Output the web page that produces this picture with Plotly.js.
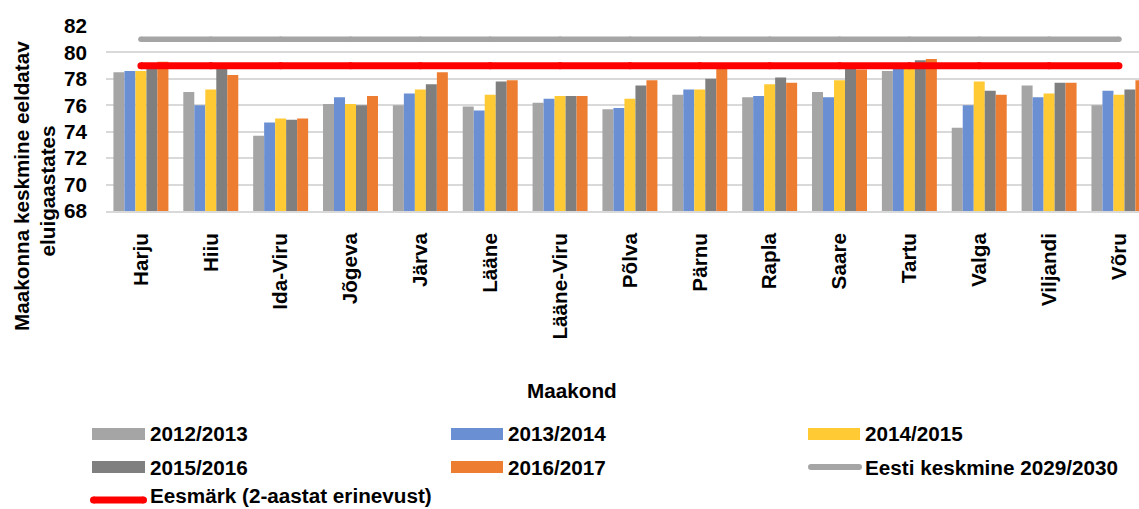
<!DOCTYPE html>
<html>
<head>
<meta charset="utf-8">
<script src="https://cdn.plot.ly/plotly-3.0.1.min.js"></script>
<style>
  html, body { margin: 0; padding: 0; background: #fff; }
  #chart { width: 1139px; height: 509px; }
</style>
</head>
<body>
<div id="chart"></div>
<script>
// Maakonnad (counties)
const categories = ['Harju', 'Hiiu', 'Ida-Viru', 'Jõgeva', 'Järva', 'Lääne', 'Lääne-Viru',
  'Põlva', 'Pärnu', 'Rapla', 'Saare', 'Tartu', 'Valga', 'Viljandi', 'Võru'];

// Keskmine eeldatav eluiga (aastates) perioodide kaupa
const v2012_2013 = [78.5, 77.0, 73.7, 76.1, 76.0, 75.9, 76.2, 75.7, 76.8, 76.6, 77.0, 78.6, 74.3, 77.5, 76.0];
const v2013_2014 = [78.6, 76.0, 74.7, 76.6, 76.9, 75.6, 76.5, 75.8, 77.2, 76.7, 76.6, 78.9, 76.0, 76.6, 77.1];
const v2014_2015 = [78.6, 77.2, 75.0, 76.1, 77.2, 76.8, 76.7, 76.5, 77.2, 77.6, 77.9, 78.9, 77.8, 76.9, 76.8];
const v2015_2016 = [79.0, 78.9, 74.9, 76.0, 77.6, 77.8, 76.7, 77.5, 78.0, 78.1, 78.9, 79.4, 77.1, 77.7, 77.2];
const v2016_2017 = [79.3, 78.3, 75.0, 76.7, 78.5, 77.9, 76.7, 77.9, 78.8, 77.7, 78.7, 79.5, 76.8, 77.7, 77.9];

// Võrdlusjooned
const eestiKeskmine = [81, 81, 81, 81, 81, 81, 81, 81, 81, 81, 81, 81, 81, 81, 81];
const eesmark = [79, 79, 79, 79, 79, 79, 79, 79, 79, 79, 79, 79, 79, 79, 79];

const seriesNames = ['2012/2013', '2013/2014', '2014/2015', '2015/2016', '2016/2017'];
const seriesValues = [v2012_2013, v2013_2014, v2014_2015, v2015_2016, v2016_2017];
const seriesColors = ['#A5A5A5', '#6A8FD2', '#FFCA33', '#7F7F7F', '#ED7D31'];
const lineNames = ['Eesti keskmine 2029/2030', 'Eesmärk (2-aastat erinevust)'];
const yTitleLines = ['Maakonna keskmine eeldatav', 'eluigaastates'];
const xTitle = 'Maakond';

const FONT = 'Liberation Sans, Arial, sans-serif';
const FS = 20.7;

// layout geometry (pixels)
const W = 1139, H = 509;
const M = { l: 106, r: 0, t: 26, b: 298 };
const PW = W - M.l - M.r, PH = H - M.t - M.b;
const px = x => (x - M.l) / PW;
const py = y => (H - M.b - y) / PH;

const traces = seriesValues.map((vals, i) => ({
  type: 'bar',
  name: seriesNames[i],
  x: categories,
  y: vals,
  marker: { color: seriesColors[i] },
  showlegend: false,
  hoverinfo: 'x+y+name'
}));

// reference lines; markers round off the line ends
traces.push({
  type: 'scatter', mode: 'lines+markers', name: lineNames[0],
  x: categories, y: eestiKeskmine,
  line: { color: '#A5A5A5', width: 5.5 },
  marker: { color: '#A5A5A5', size: 5.5 },
  showlegend: false
});
traces.push({
  type: 'scatter', mode: 'lines+markers', name: lineNames[1],
  x: categories, y: eesmark,
  line: { color: '#FF0000', width: 7 },
  marker: { color: '#FF0000', size: 7 },
  showlegend: false
});

// legend drawn as shapes + text
const shapes = [];
const annotations = [];
const boldFont = { family: FONT, size: FS, color: '#000', weight: 'bold' };

function rectSwatch(x0, x1, yc, color) {
  shapes.push({
    type: 'rect', xref: 'paper', yref: 'paper',
    x0: px(x0), x1: px(x1), y0: py(yc + 6), y1: py(yc - 6),
    fillcolor: color, line: { width: 0 }
  });
}
function lineSwatch(x0, x1, yc, color, w) {
  const r = w / 2;
  shapes.push({
    type: 'line', xref: 'paper', yref: 'paper',
    x0: px(x0 + r), x1: px(x1 - r), y0: py(yc), y1: py(yc),
    line: { color: color, width: w }
  });
  [x0 + r, x1 - r].forEach(cx => shapes.push({
    type: 'circle', xref: 'paper', yref: 'paper',
    x0: px(cx - r), x1: px(cx + r), y0: py(yc + r), y1: py(yc - r),
    fillcolor: color, line: { width: 0 }
  }));
}
function legendText(x, yc, text) {
  annotations.push({
    xref: 'paper', yref: 'paper', x: px(x), y: py(yc),
    xanchor: 'left', yanchor: 'middle', showarrow: false,
    text: text, font: boldFont
  });
}

const rows = [434, 467, 500];
rectSwatch(92, 145, rows[0], seriesColors[0]);  legendText(148, rows[0], seriesNames[0]);
rectSwatch(451, 503, rows[0], seriesColors[1]); legendText(506, rows[0], seriesNames[1]);
rectSwatch(808, 860, rows[0], seriesColors[2]); legendText(863, rows[0], seriesNames[2]);
rectSwatch(92, 145, rows[1], seriesColors[3]);  legendText(148, rows[1], seriesNames[3]);
rectSwatch(451, 503, rows[1], seriesColors[4]); legendText(506, rows[1], seriesNames[4]);
lineSwatch(808, 862, rows[1], '#A5A5A5', 6);    legendText(863, rows[1], lineNames[0]);
lineSwatch(90, 147, rows[2], '#FF0000', 7);
annotations.push({
  xref: 'paper', yref: 'paper', x: px(148), y: py(H),
  xanchor: 'left', yanchor: 'bottom', showarrow: false,
  text: lineNames[1], font: boldFont
});

// y-axis title, two rotated lines, each anchored at its starting (lower) end
[[21, 333, yTitleLines[0]], [47, 259, yTitleLines[1]]].forEach(([xc, yStart, t]) => annotations.push({
  xref: 'paper', yref: 'paper', x: px(xc), y: py(yStart),
  xanchor: 'center', yanchor: 'bottom', showarrow: false, textangle: -90,
  text: t, font: boldFont
}));
annotations.push({
  xref: 'paper', yref: 'paper', x: px(572), y: py(390),
  xanchor: 'center', yanchor: 'middle', showarrow: false,
  text: xTitle, font: boldFont
});

const layout = {
  width: W, height: H,
  margin: M,
  paper_bgcolor: '#fff', plot_bgcolor: '#fff',
  barmode: 'group', bargap: 0.213, bargroupgap: 0,
  showlegend: false,
  font: { family: FONT, size: FS, color: '#000' },
  xaxis: {
    type: 'category',
    range: [-0.5, 14.287],
    tickangle: -90,
    tickfont: boldFont,
    ticks: '',
    ticklabelstandoff: 12,
    showline: true, linecolor: '#D9D9D9', linewidth: 1.5,
    showgrid: false, zeroline: false
  },
  yaxis: {
    range: [68, 82],
    tick0: 68, dtick: 2,
    tickfont: boldFont,
    ticks: '',
    ticklabelstandoff: 18,
    showgrid: true, gridcolor: '#D9D9D9', gridwidth: 1.5,
    showline: false, zeroline: false
  },
  shapes: shapes,
  annotations: annotations
};

Plotly.newPlot('chart', traces, layout, { displayModeBar: false });
</script>
</body>
</html>
